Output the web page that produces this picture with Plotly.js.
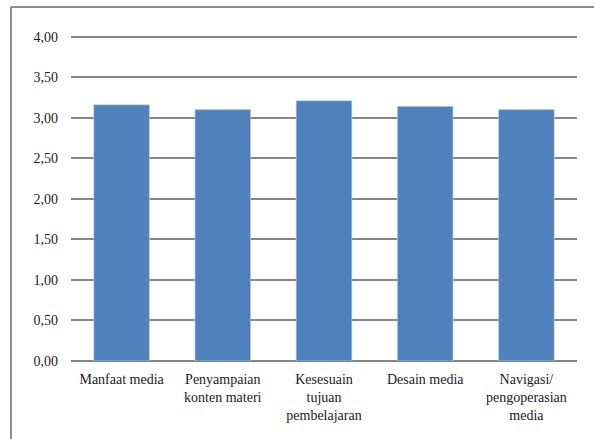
<!DOCTYPE html>
<html><head><meta charset="utf-8">
<script src="https://cdn.plot.ly/plotly-3.0.1.min.js"></script>
<style>html,body{margin:0;padding:0;background:#fff;}#chart{width:594px;height:439px;}</style>
</head><body><div id="chart"></div>
<script>
const categories = ["Manfaat media", "Penyampaian<br>konten materi", "Kesesuain<br>tujuan<br>pembelajaran", "Desain media", "Navigasi/<br>pengoperasian<br>media"];
const values = [3.16, 3.10, 3.21, 3.14, 3.10];
const yTicks = [0, 0.5, 1, 1.5, 2, 2.5, 3, 3.5, 4];

const trace = {
  type: 'bar',
  x: categories,
  y: values,
  marker: {color: '#4F81BD', line: {color: '#c4d4ea', width: 0.6}},
  width: 0.55,
  hoverinfo: 'none'
};
const font = {family: "'Liberation Serif'", size: 14, color: '#1a1a1a'};
const layout = {
  width: 594, height: 439,
  margin: {l: 71, r: 17, t: 35, b: 78},
  paper_bgcolor: '#fff', plot_bgcolor: '#fff',
  separators: ',.',
  font: font,
  showlegend: false,
  xaxis: {
    type: 'category', showgrid: false, zeroline: false, showline: false,
    ticks: '', tickfont: font, ticklabelstandoff: 8, fixedrange: true
  },
  yaxis: {
    range: [0, 4.02], tickvals: yTicks, tickformat: '.2f',
    showgrid: true, gridcolor: '#868686', gridwidth: 2,
    zeroline: true, zerolinecolor: '#868686', zerolinewidth: 2,
    showline: false, ticks: '', tickfont: font, ticklabelstandoff: 12, fixedrange: true
  },
  shapes: [
    {type: 'line', xref: 'paper', yref: 'paper', x0: -60/506, x1: -60/506, y0: 1 + 28/326, y1: -0.4, line: {color: '#8c8c8c', width: 2}},
    {type: 'line', xref: 'paper', yref: 'paper', x0: -60/506, x1: 1.2, y0: 1 + 28/326, y1: 1 + 28/326, line: {color: '#8c8c8c', width: 2}}
  ]
};
Plotly.newPlot('chart', [trace], layout, {staticPlot: true, displayModeBar: false});
</script></body></html>
